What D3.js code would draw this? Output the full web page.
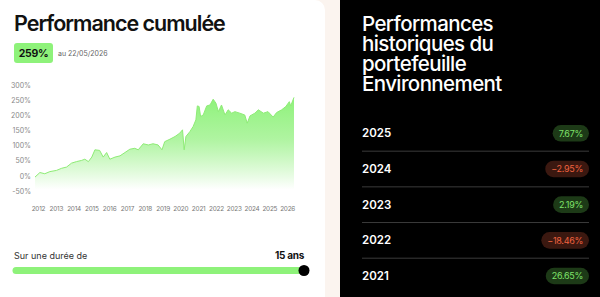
<!DOCTYPE html>
<html>
<head>
<meta charset="utf-8">
<script src="https://cdn.jsdelivr.net/npm/d3@7"></script>
<style>
  body { margin: 0; background: #fbf4ef; }
  svg { display: block; font-family: Inter, "Noto Sans", sans-serif; }
</style>
</head>
<body>
<script>
// cumulated performance (%)
const dates = ["2011-11-01","2012-02-10","2012-05-20","2012-09-01","2013-01-15","2013-05-01","2013-08-10",
  "2013-11-20","2014-03-01","2014-06-15","2014-08-20","2014-11-01","2015-01-10","2015-03-15","2015-06-20",
  "2015-09-01","2015-11-10","2016-01-15","2016-05-01","2016-08-10","2016-11-20","2017-03-01","2017-06-10",
  "2017-08-20","2017-12-01","2018-03-15","2018-06-20","2018-10-01","2018-12-20","2019-02-15","2019-06-01",
  "2019-09-15","2019-12-20","2020-02-15","2020-03-20","2020-04-25","2020-07-15","2020-09-20","2020-11-15",
  "2020-12-15","2021-01-20","2021-02-20","2021-04-15","2021-06-25","2021-09-01","2021-11-05","2022-01-01",
  "2022-02-20","2022-04-25","2022-07-05","2022-09-10","2022-11-20","2023-01-25","2023-05-05","2023-08-15",
  "2023-10-05","2023-12-01","2024-03-10","2024-05-20","2024-09-01","2024-12-05","2025-03-20","2025-05-30",
  "2025-09-10","2025-12-05","2026-02-15","2026-03-15","2026-05-22"];
const perf = [-4, 11, 7, 14, 18, 25, 29, 42, 47, 51, 55, 47, 62, 86, 84, 62, 77, 55, 62, 66, 77, 88, 91,
  86, 106, 102, 106, 102, 86, 113, 121, 130, 141, 152, 86, 130, 146, 163, 185, 231, 229, 196, 201, 231,
  234, 253, 240, 212, 234, 201, 218, 207, 212, 207, 201, 174, 198, 207, 218, 207, 212, 194, 209, 218,
  229, 245, 231, 259];
const yTicks = [-50, 0, 50, 100, 150, 200, 250, 300];
const tickYears = d3.range(2012, 2027);

const years = ["2025", "2024", "2023", "2022", "2021"];
const yearPerf = [7.67, -2.95, 2.19, -18.46, 26.65];

const duration = 15;
const lastValue = "259%";
const lastDate = "au 22/05/2026";

const W = 600, H = 297;
const svg = d3.select("body").append("svg").attr("width", W).attr("height", H);

// panels
svg.append("path")
  .attr("d", "M0,0 H315 A10,10 0 0 1 325,10 V297 H0 Z")
  .attr("fill", "#ffffff");
svg.append("rect").attr("x", 340).attr("y", 0).attr("width", 260).attr("height", H).attr("fill", "#000");

// left header
svg.append("text").attr("x", 14).attr("y", 31)
  .attr("font-size", 21.5).attr("font-weight", 600).attr("letter-spacing", -1)
  .attr("fill", "#111").text("Performance cumulée");

svg.append("rect").attr("x", 14).attr("y", 43).attr("width", 39).attr("height", 20).attr("rx", 3)
  .attr("fill", "#8ef27a");
svg.append("text").attr("x", 33.5).attr("y", 57).attr("text-anchor", "middle")
  .attr("font-size", 10.5).attr("font-weight", 700).attr("letter-spacing", -0.3)
  .attr("fill", "#111").text(lastValue);
svg.append("text").attr("x", 58).attr("y", 56)
  .attr("font-size", 7).attr("fill", "#666").text(lastDate);

// chart
const parse = d3.timeParse("%Y-%m-%d");
const data = dates.map((d, i) => ({ date: parse(d), value: perf[i] }));

const x = d3.scaleTime()
  .domain([parse("2011-11-01"), parse("2026-05-22")])
  .range([35, 294]);
const y = d3.scaleLinear().domain([-50, 300]).range([191, 85]);

const defs = svg.append("defs");
const grad = defs.append("linearGradient").attr("id", "fillGrad")
  .attr("x1", 0).attr("y1", 0).attr("x2", 0).attr("y2", 1);
grad.append("stop").attr("offset", "0%").attr("stop-color", "#8ef27a").attr("stop-opacity", 1);
grad.append("stop").attr("offset", "45%").attr("stop-color", "#a6f396").attr("stop-opacity", 0.9);
grad.append("stop").attr("offset", "100%").attr("stop-color", "#ffffff").attr("stop-opacity", 1);

const area = d3.area()
  .x(d => x(d.date))
  .y0(y(-45))
  .y1(d => y(d.value));
const line = d3.line()
  .x(d => x(d.date))
  .y(d => y(d.value));

svg.append("path").datum(data)
  .attr("d", area)
  .attr("fill", "url(#fillGrad)");
svg.append("path").datum(data)
  .attr("d", line)
  .attr("fill", "none")
  .attr("stroke", "#8eec76")
  .attr("stroke-width", 1);

const yAxis = svg.append("g")
  .attr("transform", "translate(31,0)")
  .call(d3.axisLeft(y).tickValues(yTicks).tickSize(0).tickPadding(0).tickFormat(d => d + "%"));
yAxis.select(".domain").remove();
yAxis.selectAll("text").attr("font-size", 7).attr("fill", "#888").attr("font-family", "Inter, sans-serif");

const xAxis = svg.append("g")
  .attr("transform", "translate(0,206)")
  .call(d3.axisBottom(x)
    .tickValues(tickYears.map(yr => new Date(yr, 0, 1)))
    .tickSize(0).tickPadding(0)
    .tickFormat(d3.timeFormat("%Y")));
xAxis.select(".domain").remove();
xAxis.selectAll("text").attr("font-size", 6.4).attr("letter-spacing", -0.2)
  .attr("fill", "#777").attr("font-family", "Inter, sans-serif");

// duration slider
const s = d3.scaleLinear().domain([0, duration]).range([16, 304]);
svg.append("text").attr("x", 14).attr("y", 259)
  .attr("font-size", 9).attr("fill", "#333").text("Sur une durée de");
svg.append("text").attr("x", 304).attr("y", 259).attr("text-anchor", "end")
  .attr("font-size", 10).attr("font-weight", 700).attr("letter-spacing", -0.3)
  .attr("fill", "#111").text(duration + " ans");
svg.append("line")
  .attr("x1", s(0)).attr("x2", s(duration))
  .attr("y1", 270.5).attr("y2", 270.5)
  .attr("stroke", "#8ef27a").attr("stroke-width", 7).attr("stroke-linecap", "round");
svg.append("circle").attr("cx", s(duration)).attr("cy", 270.5).attr("r", 5.5).attr("fill", "#000");

// right panel
const titleLines = ["Performances", "historiques du", "portefeuille", "Environnement"];
svg.append("text")
  .attr("font-size", 20.5).attr("font-weight", 500).attr("letter-spacing", -0.6).attr("fill", "#fff")
  .selectAll("tspan").data(titleLines).join("tspan")
  .attr("x", 362).attr("y", (d, i) => 31 + i * 20)
  .text(d => d);

const rowY = d3.scalePoint().domain(years).range([133.3, 276]);
const rows = svg.append("g");

years.forEach((yr, i) => {
  const cy = rowY(yr);
  if (i > 0) {
    rows.append("line")
      .attr("x1", 362).attr("x2", 589)
      .attr("y1", cy - 17.8).attr("y2", cy - 17.8)
      .attr("stroke", "#3a3a3a").attr("stroke-width", 1);
  }
  rows.append("text").attr("x", 362).attr("y", cy + 4)
    .attr("font-size", 11.5).attr("font-weight", 600).attr("fill", "#fff")
    .text(yr);

  const v = yearPerf[i];
  const pos = v >= 0;
  const label = d3.format(".2f")(v) + "%";
  const g = rows.append("g");
  const t = g.append("text").attr("y", cy + 3.2).attr("text-anchor", "end")
    .attr("font-size", 9).attr("letter-spacing", -0.3)
    .attr("fill", pos ? "#7fe36a" : "#f0623f").text(label);
  const tw = t.node().getComputedTextLength();
  const bw = tw + 12;
  g.insert("rect", "text")
    .attr("x", 589 - bw).attr("y", cy - 8.3)
    .attr("width", bw).attr("height", 16.6).attr("rx", 8.3)
    .attr("fill", pos ? "#1d3a17" : "#3b1810");
  t.attr("x", 589 - 6);
});
</script>
</body>
</html>
